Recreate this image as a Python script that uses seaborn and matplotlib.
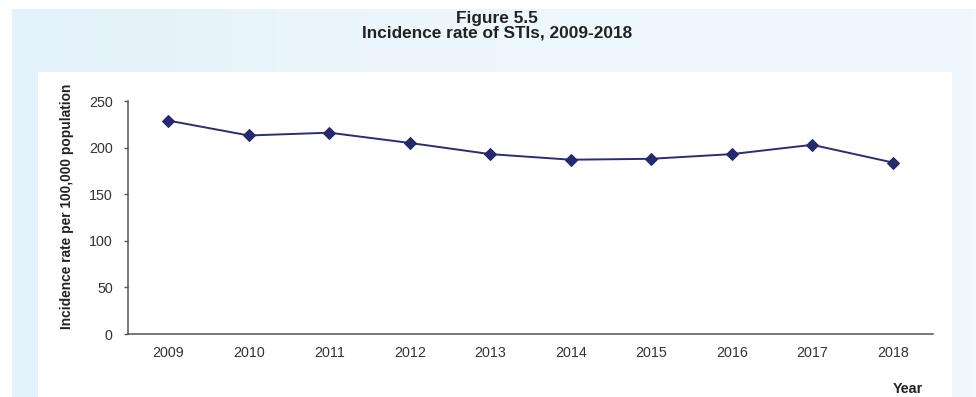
import numpy as np
import matplotlib
matplotlib.use("Agg")
import matplotlib.pyplot as plt
from matplotlib.patches import Rectangle
import seaborn as sns
import pandas as pd

# Incidence of sexually transmitted infections per 100,000 population
years = ["2009", "2010", "2011", "2012", "2013", "2014", "2015", "2016", "2017", "2018"]
rates = [229, 213, 216, 205, 193, 187, 188, 193, 203, 184]
y_ticks = [0, 50, 100, 150, 200, 250]

df = pd.DataFrame({"Year": years, "Rate": rates})

sns.set_theme(style="white")
plt.rcParams["font.family"] = ["Liberation Sans", "DejaVu Sans"]

W, H = 976, 397
fig = plt.figure(figsize=(W / 100, H / 100), dpi=100, facecolor="white")

# pale blue page background with a soft left-to-right fade
bg = fig.add_axes([12 / W, 0, 1 - 12 / W, 1 - 9 / H], zorder=-10)
grad = np.linspace(0, 1, 256)[None, :]
cmap = matplotlib.colors.LinearSegmentedColormap.from_list("page", ["#e3f1fa", "#eef7fc", "#f1f8fc"])
bg.imshow(grad, aspect="auto", cmap=cmap, extent=[0, 1, 0, 1])
bg.set_axis_off()

# white chart panel
fig.patches.append(Rectangle((38 / W, 0), (952 - 38) / W, 1 - 72 / H,
                             transform=fig.transFigure, facecolor="white",
                             edgecolor="none", zorder=-5))

ax = fig.add_axes([128 / W, 63 / H, (933 - 128) / W, (334 - 101) / H])
ax.set_facecolor("white")
ax.patch.set_alpha(0)

sns.lineplot(data=df, x="Year", y="Rate", ax=ax, color="#2b2e72", linewidth=1.4,
             marker="D", markersize=6.5, markeredgecolor="#23266a", markerfacecolor="#26296e",
             sort=False)

ax.set_xlim(-0.5, len(years) - 0.5)
ax.set_ylim(0, 250)
ax.set_yticks(y_ticks)
ax.set_xticks(range(len(years)))
ax.set_xticklabels(years)
ax.set_xticks(np.arange(-0.5, len(years), 1.0), minor=True)
ax.tick_params(axis="x", which="major", length=0, pad=8.5, labelsize=10.3, colors="#333333")
ax.tick_params(axis="x", which="minor", length=2.5, width=1, color="#555555", direction="out")
ax.tick_params(axis="y", which="major", length=3, width=1, color="#555555", direction="out",
               pad=8, labelsize=10.3, labelcolor="#333333", left=True)
for side in ["top", "right"]:
    ax.spines[side].set_visible(False)
for side in ["left", "bottom"]:
    ax.spines[side].set_color("#555555")
    ax.spines[side].set_linewidth(1.1)

ax.set_xlabel("")
ax.set_ylabel("")

fig.text(67 / W, 1 - 206 / H, "Incidence rate per 100,000 population", rotation=90,
         ha="center", va="center", fontsize=9.9, fontweight="bold", color="#222222")
fig.text(908 / W, 1 - 389 / H, "Year", ha="center", va="center",
         fontsize=10.3, fontweight="bold", color="#222222")

fig.text(497 / W, 1 - 22.7 / H, "Figure 5.5", ha="center", va="baseline",
         fontsize=12.4, fontweight="bold", color="#222222")
fig.text(497 / W, 1 - 37.5 / H, "Incidence rate of STIs, 2009-2018", ha="center", va="baseline",
         fontsize=12.4, fontweight="bold", color="#222222")

fig.savefig("out.png", dpi=100, facecolor=fig.get_facecolor())
